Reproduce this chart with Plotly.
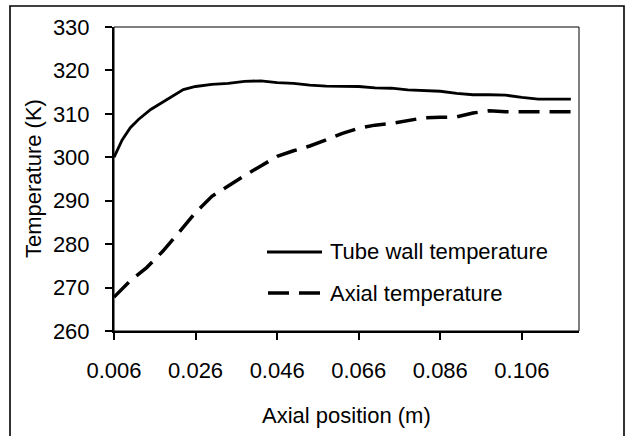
import plotly.graph_objects as go

# ---- data ----
wall_x = [0.006, 0.008, 0.010, 0.012, 0.015, 0.019, 0.023, 0.026, 0.030, 0.034, 0.038,
          0.042, 0.046, 0.050, 0.054, 0.058, 0.062, 0.066, 0.070, 0.074, 0.078, 0.082,
          0.086, 0.090, 0.094, 0.098, 0.102, 0.106, 0.110, 0.114, 0.118]
wall_t = [300.0, 304.0, 306.8, 308.7, 311.0, 313.3, 315.6, 316.3, 316.8, 317.0, 317.5,
          317.6, 317.2, 317.0, 316.6, 316.4, 316.4, 316.3, 316.0, 315.9, 315.5, 315.4,
          315.2, 314.7, 314.4, 314.4, 314.3, 313.8, 313.4, 313.4, 313.4]

axial_x = [0.006, 0.010, 0.014, 0.018, 0.022, 0.026, 0.030, 0.034, 0.038, 0.042, 0.046,
           0.050, 0.054, 0.058, 0.062, 0.066, 0.070, 0.074, 0.078, 0.082, 0.086, 0.090,
           0.094, 0.098, 0.102, 0.106, 0.110, 0.114, 0.120]
axial_t = [267.8, 271.6, 274.6, 278.4, 282.8, 287.3, 291.0, 293.5, 295.8, 298.0, 300.2,
           301.5, 302.6, 304.0, 305.5, 306.7, 307.4, 307.8, 308.5, 309.1, 309.2, 309.3,
           310.2, 310.7, 310.5, 310.5, 310.5, 310.5, 310.5]

series_names = ["Tube wall temperature", "Axial temperature"]
x_ticks = [0.006, 0.026, 0.046, 0.066, 0.086, 0.106]
x_tick_labels = ["0.006", "0.026", "0.046", "0.066", "0.086", "0.106"]
y_ticks = [260, 270, 280, 290, 300, 310, 320, 330]
x_title = "Axial position (m)"
y_title = "Temperature (K)"

FONT = "Liberation Sans, Arial, sans-serif"
FS = 22
W, H = 627, 436
L, R, T, B = 114, 48, 27, 105
PW, PH = W - L - R, H - T - B

def px_x(p):
    return (p - L) / PW

def px_y(p):
    return (H - B - p) / PH

fig = go.Figure()
fig.add_trace(go.Scatter(x=wall_x, y=wall_t, mode="lines", name=series_names[0],
                         line=dict(color="black", width=2.8), showlegend=False))
fig.add_trace(go.Scatter(x=axial_x, y=axial_t, mode="lines", name=series_names[1],
                         line=dict(color="black", width=3.5, dash="21px,10px"),
                         showlegend=False))

shapes = []
# outer chart border
shapes.append(dict(type="rect", xref="paper", yref="paper",
                   x0=px_x(10), x1=px_x(624), y0=px_y(440), y1=px_y(6),
                   line=dict(color="black", width=1.6), layer="below"))
# plot area border
shapes.append(dict(type="rect", xref="paper", yref="paper",
                   x0=0, x1=1, y0=0, y1=1,
                   line=dict(color="black", width=1), layer="below"))
# legend samples
shapes.append(dict(type="line", xref="paper", yref="paper",
                   x0=px_x(267), x1=px_x(322), y0=px_y(252), y1=px_y(252),
                   line=dict(color="black", width=2.8)))
shapes.append(dict(type="line", xref="paper", yref="paper",
                   x0=px_x(268), x1=px_x(322), y0=px_y(293), y1=px_y(293),
                   line=dict(color="black", width=3.5, dash="21px,10px")))

annotations = [
    dict(text=series_names[0], xref="paper", yref="paper", x=px_x(328), y=px_y(252),
         xanchor="left", yanchor="middle", showarrow=False,
         font=dict(family=FONT, size=FS, color="black")),
    dict(text=series_names[1], xref="paper", yref="paper", x=px_x(328), y=px_y(293),
         xanchor="left", yanchor="middle", showarrow=False,
         font=dict(family=FONT, size=FS, color="black")),
    dict(text=x_title, xref="paper", yref="paper", x=0.5, y=px_y(415),
         xanchor="center", yanchor="middle", showarrow=False,
         font=dict(family=FONT, size=FS, color="black")),
    dict(text=y_title, xref="paper", yref="paper", x=px_x(33), y=0.5,
         xanchor="center", yanchor="middle", showarrow=False, textangle=-90,
         font=dict(family=FONT, size=FS, color="black")),
]

fig.update_layout(
    width=W, height=H, margin=dict(l=L, r=R, t=T, b=B),
    paper_bgcolor="white", plot_bgcolor="white",
    font=dict(family=FONT, size=FS, color="black"),
    shapes=shapes, annotations=annotations, showlegend=False,
    xaxis=dict(range=[0.006, 0.120], tickvals=x_ticks, ticktext=x_tick_labels,
               showgrid=False, zeroline=False, showline=True, linecolor="black",
               linewidth=2, ticks="outside", ticklen=7, tickwidth=1.5,
               tickcolor="black", ticklabelstandoff=12),
    yaxis=dict(range=[260, 330], tickvals=y_ticks, showgrid=False, zeroline=False,
               showline=True, linecolor="black", linewidth=2, ticks="outside",
               ticklen=7, tickwidth=1.5, tickcolor="black", ticklabelstandoff=11),
)

fig.write_html("out.html")
